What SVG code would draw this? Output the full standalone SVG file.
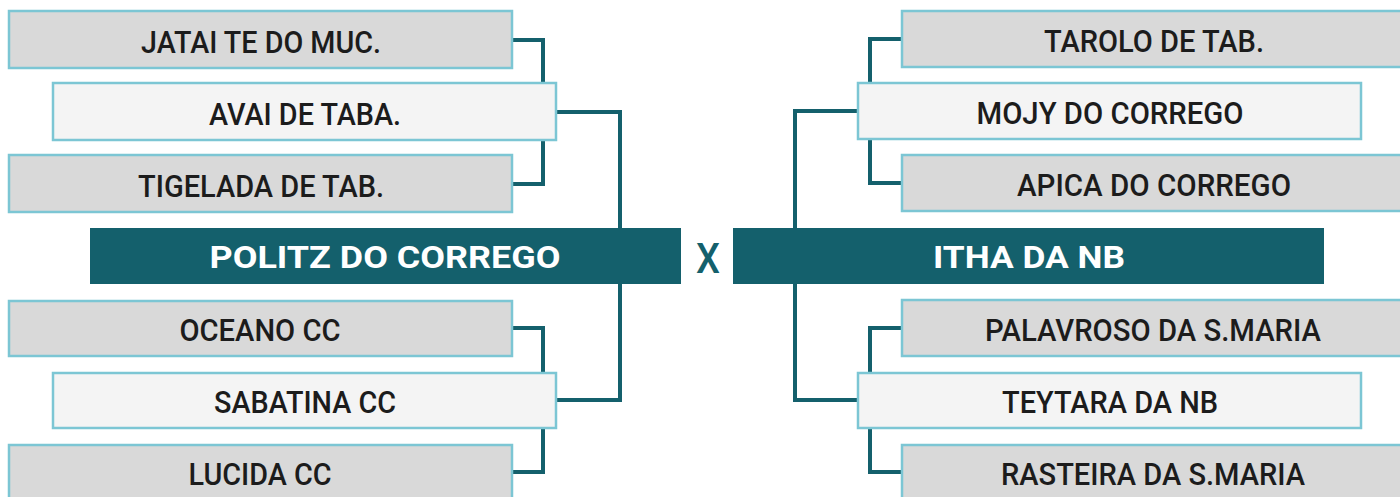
<svg xmlns="http://www.w3.org/2000/svg" width="1400" height="497" viewBox="0 0 1400 497">
<style>
.g{fill:#d9d9d9;stroke:#7cc6d4;stroke-width:2.5}
.w{fill:#f4f4f4;stroke:#7cc6d4;stroke-width:2.5}
.bar{fill:#14606c}
.t{font-family:Roboto,"Liberation Sans",sans-serif;font-weight:500;font-size:32px;fill:#1c1c1c;text-anchor:middle}
.h{font-family:Roboto,"Liberation Sans",sans-serif;font-weight:700;font-size:32px;fill:#ffffff;text-anchor:middle}
.x{font-family:Roboto,"Liberation Sans",sans-serif;font-weight:500;font-size:42px;fill:#14606c;text-anchor:middle}
.c{fill:none;stroke:#14606c;stroke-width:4}
</style>
<rect width="1400" height="497" fill="#ffffff"/>
<g id="connectors">
<polyline class="c" points="512,40 543,40 543,184 512,184"/>
<polyline class="c" points="556,112 620,112 620,230"/>
<polyline class="c" points="620,282 620,400 556,400"/>
<polyline class="c" points="512,328 543,328 543,472 512,472"/>
<polyline class="c" points="902,39 870,39 870,183 902,183"/>
<polyline class="c" points="858,111 795,111 795,230"/>
<polyline class="c" points="795,282 795,400 858,400"/>
<polyline class="c" points="902,328 870,328 870,472 902,472"/>
</g>
<g id="n-jatai"><rect class="g" x="9" y="11" width="503" height="57"/><text class="t" x="261" y="52.5" textLength="240" lengthAdjust="spacingAndGlyphs">JATAI TE DO MUC.</text></g>
<g id="n-avai"><rect class="w" x="53" y="83" width="503" height="57"/><text class="t" x="305" y="124.5" textLength="192" lengthAdjust="spacingAndGlyphs">AVAI DE TABA.</text></g>
<g id="n-tigelada"><rect class="g" x="9" y="155" width="503" height="57"/><text class="t" x="261" y="196.5" textLength="246" lengthAdjust="spacingAndGlyphs">TIGELADA DE TAB.</text></g>
<g id="n-politz"><rect class="bar" x="90" y="228" width="591" height="56"/><text class="h" x="385" y="268" textLength="351" lengthAdjust="spacingAndGlyphs">POLITZ DO CORREGO</text></g>
<g id="n-x"><text class="x" x="708" y="273" textLength="24" lengthAdjust="spacingAndGlyphs">X</text></g>
<g id="n-itha"><rect class="bar" x="733" y="228" width="591" height="56"/><text class="h" x="1029" y="268" textLength="192" lengthAdjust="spacingAndGlyphs">ITHA DA NB</text></g>
<g id="n-oceano"><rect class="g" x="9" y="301" width="503" height="55"/><text class="t" x="260" y="341" textLength="161" lengthAdjust="spacingAndGlyphs">OCEANO CC</text></g>
<g id="n-sabatina"><rect class="w" x="53" y="373" width="503" height="55"/><text class="t" x="305" y="413" textLength="182" lengthAdjust="spacingAndGlyphs">SABATINA CC</text></g>
<g id="n-lucida"><rect class="g" x="9" y="445" width="503" height="56"/><text class="t" x="260" y="485" textLength="143" lengthAdjust="spacingAndGlyphs">LUCIDA CC</text></g>
<g id="n-tarolo"><rect class="g" x="902" y="11" width="505" height="56"/><text class="t" x="1154" y="52" textLength="220" lengthAdjust="spacingAndGlyphs">TAROLO DE TAB.</text></g>
<g id="n-mojy"><rect class="w" x="858" y="83" width="503" height="56"/><text class="t" x="1110" y="124" textLength="267" lengthAdjust="spacingAndGlyphs">MOJY DO CORREGO</text></g>
<g id="n-apica"><rect class="g" x="902" y="155" width="505" height="56"/><text class="t" x="1154" y="196" textLength="274" lengthAdjust="spacingAndGlyphs">APICA DO CORREGO</text></g>
<g id="n-palavroso"><rect class="g" x="902" y="300" width="505" height="56"/><text class="t" x="1153" y="341" textLength="336" lengthAdjust="spacingAndGlyphs">PALAVROSO DA S.MARIA</text></g>
<g id="n-teytara"><rect class="w" x="858" y="373" width="503" height="55"/><text class="t" x="1110" y="413" textLength="216" lengthAdjust="spacingAndGlyphs">TEYTARA DA NB</text></g>
<g id="n-rasteira"><rect class="g" x="902" y="445" width="505" height="56"/><text class="t" x="1153" y="485" textLength="304" lengthAdjust="spacingAndGlyphs">RASTEIRA DA S.MARIA</text></g>
</svg>
